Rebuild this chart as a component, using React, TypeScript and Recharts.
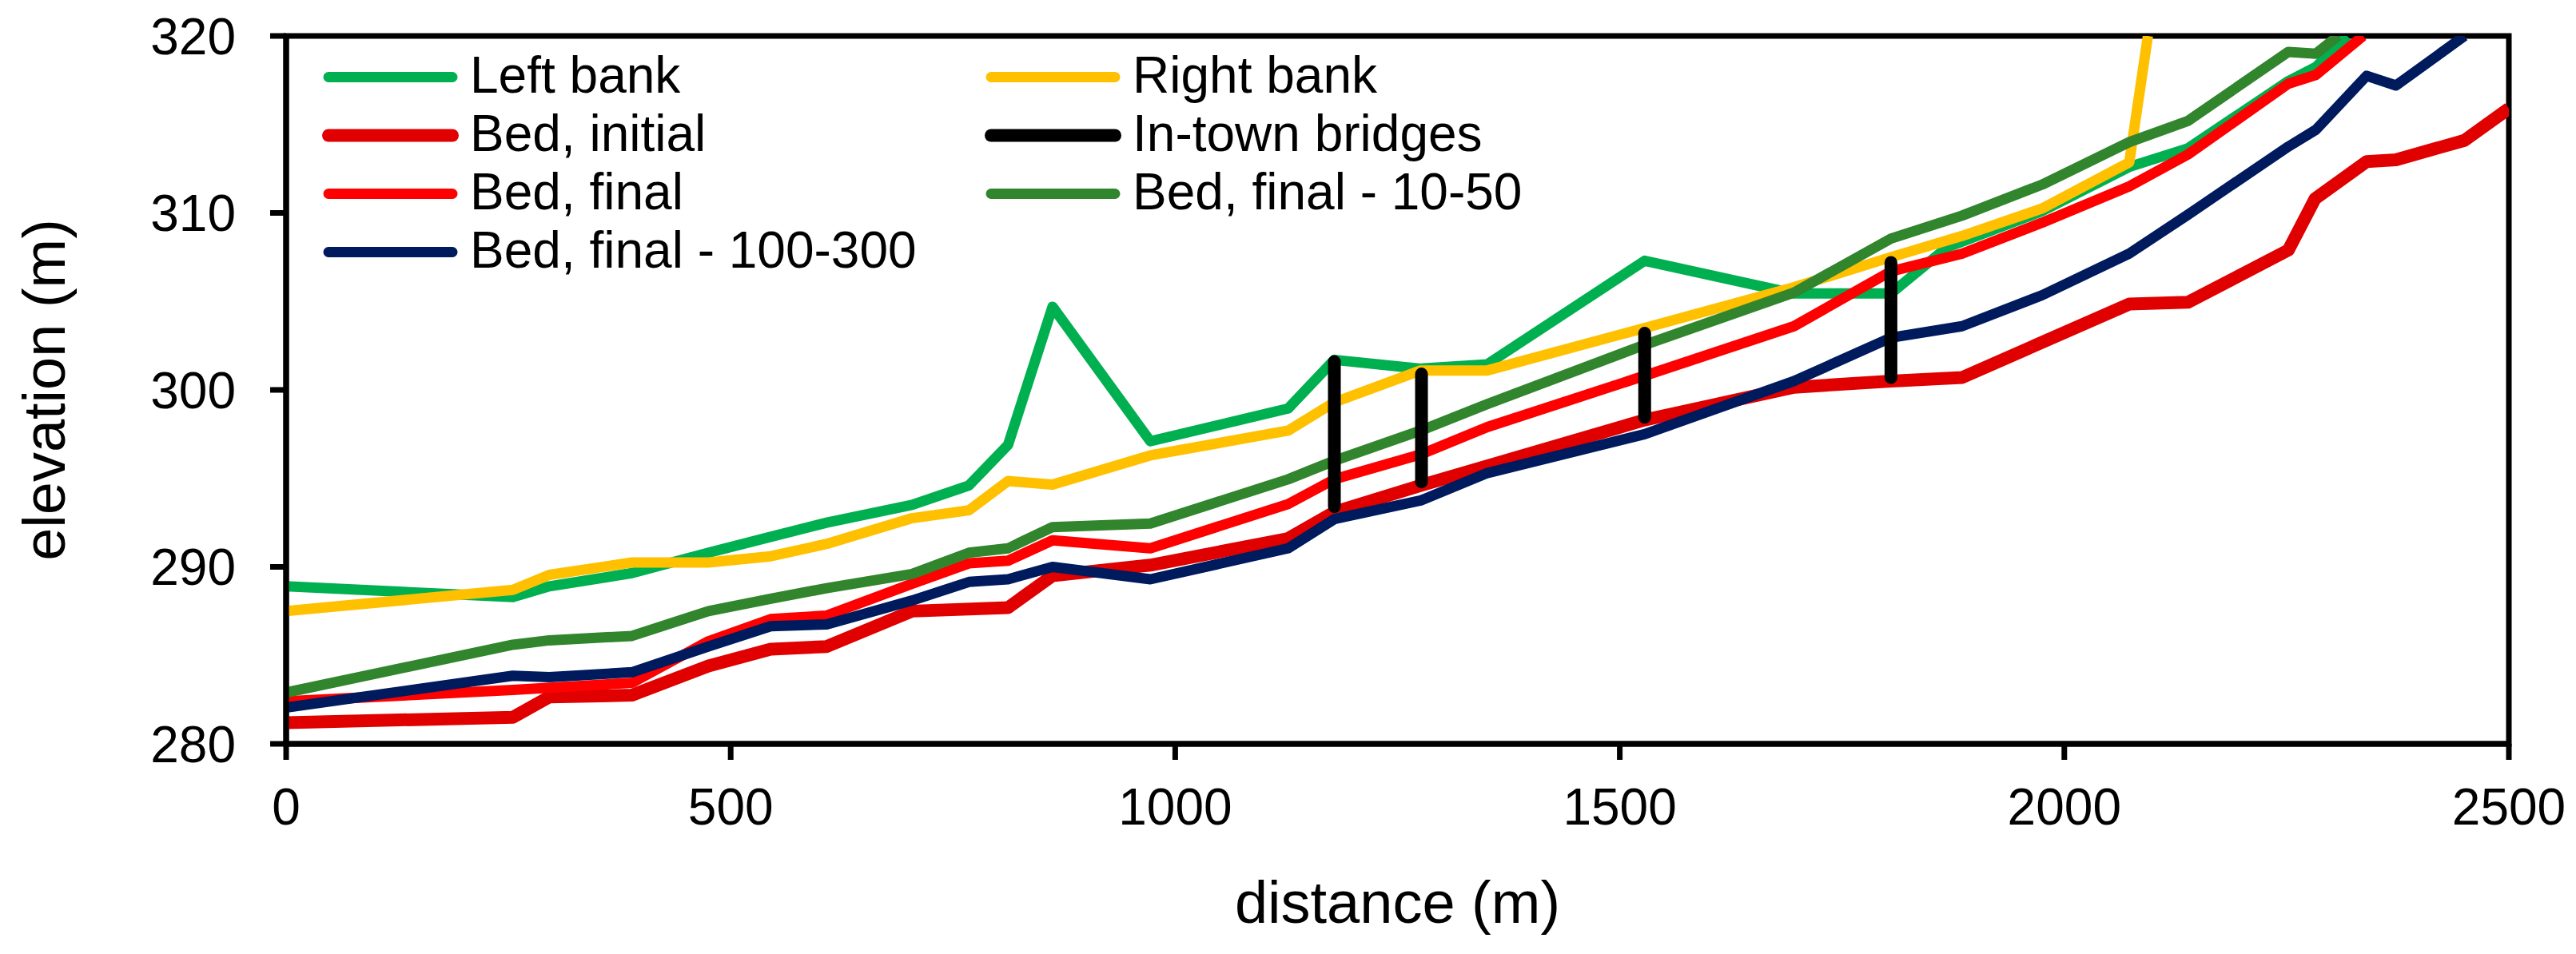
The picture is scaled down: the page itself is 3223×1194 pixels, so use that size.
import React from 'react';
import { LineChart, Line, XAxis, YAxis, Legend, ReferenceArea } from 'recharts';

const FONT = "'Liberation Sans', Arial, sans-serif";

const xTicks = [0, 500, 1000, 1500, 2000, 2500];
const yTicks = [280, 290, 300, 310, 320];

const leftBank = [
  { d: 0, e: 288.9 }, { d: 255, e: 288.3 }, { d: 296, e: 288.9 }, { d: 389, e: 289.65 },
  { d: 475, e: 290.8 }, { d: 545, e: 291.7 }, { d: 608, e: 292.5 }, { d: 704, e: 293.5 },
  { d: 768, e: 294.6 }, { d: 812, e: 296.9 }, { d: 862, e: 304.7 }, { d: 972, e: 297.1 },
  { d: 1127, e: 298.95 }, { d: 1179, e: 301.7 }, { d: 1276, e: 301.2 }, { d: 1351, e: 301.45 },
  { d: 1528, e: 307.3 }, { d: 1696, e: 305.45 }, { d: 1805, e: 305.45 }, { d: 1868, e: 308.05 },
  { d: 1975, e: 310.1 }, { d: 2073, e: 312.6 }, { d: 2139, e: 313.65 }, { d: 2252, e: 317.45 },
  { d: 2283, e: 318.25 }, { d: 2318, e: 320 },
];

const rightBank = [
  { d: 0, e: 287.5 }, { d: 255, e: 288.7 }, { d: 296, e: 289.55 }, { d: 389, e: 290.25 },
  { d: 475, e: 290.25 }, { d: 545, e: 290.6 }, { d: 608, e: 291.3 }, { d: 704, e: 292.75 },
  { d: 768, e: 293.2 }, { d: 812, e: 294.85 }, { d: 862, e: 294.65 }, { d: 972, e: 296.3 },
  { d: 1127, e: 297.7 }, { d: 1179, e: 299.3 }, { d: 1276, e: 301.1 }, { d: 1351, e: 301.1 },
  { d: 1528, e: 303.5 }, { d: 1696, e: 305.8 }, { d: 1805, e: 307.5 }, { d: 1885, e: 308.7 },
  { d: 1975, e: 310.25 }, { d: 2073, e: 312.85 }, { d: 2094, e: 320 },
];

const bedInitial = [
  { d: 0, e: 281.2 }, { d: 255, e: 281.5 }, { d: 296, e: 282.65 }, { d: 389, e: 282.75 },
  { d: 475, e: 284.4 }, { d: 545, e: 285.35 }, { d: 608, e: 285.5 }, { d: 704, e: 287.5 },
  { d: 812, e: 287.7 }, { d: 862, e: 289.5 }, { d: 972, e: 290.1 }, { d: 1127, e: 291.6 },
  { d: 1179, e: 293.1 }, { d: 1276, e: 294.6 }, { d: 1351, e: 295.7 }, { d: 1528, e: 298.3 },
  { d: 1696, e: 300.15 }, { d: 1805, e: 300.5 }, { d: 1885, e: 300.7 }, { d: 2073, e: 304.85 },
  { d: 2139, e: 304.95 }, { d: 2252, e: 307.9 }, { d: 2282, e: 310.8 }, { d: 2340, e: 312.9 },
  { d: 2373, e: 313.0 }, { d: 2450, e: 314.1 }, { d: 2500, e: 315.9 },
];

const bedFinal = [
  { d: 0, e: 282.4 }, { d: 255, e: 283.05 }, { d: 389, e: 283.45 }, { d: 475, e: 285.8 },
  { d: 545, e: 287.05 }, { d: 608, e: 287.25 }, { d: 704, e: 289.05 }, { d: 768, e: 290.2 },
  { d: 812, e: 290.35 }, { d: 862, e: 291.5 }, { d: 972, e: 291.05 }, { d: 1127, e: 293.55 },
  { d: 1179, e: 294.95 }, { d: 1276, e: 296.35 }, { d: 1351, e: 297.9 }, { d: 1528, e: 300.8 },
  { d: 1696, e: 303.6 }, { d: 1805, e: 306.7 }, { d: 1885, e: 307.7 }, { d: 1975, e: 309.45 },
  { d: 2073, e: 311.5 }, { d: 2139, e: 313.3 }, { d: 2252, e: 317.3 }, { d: 2283, e: 317.8 },
  { d: 2336, e: 320 },
];

const bedFinal1050 = [
  { d: 0, e: 282.9 }, { d: 255, e: 285.6 }, { d: 296, e: 285.85 }, { d: 389, e: 286.1 },
  { d: 475, e: 287.5 }, { d: 545, e: 288.2 }, { d: 608, e: 288.8 }, { d: 704, e: 289.6 },
  { d: 768, e: 290.8 }, { d: 812, e: 291.05 }, { d: 862, e: 292.25 }, { d: 972, e: 292.45 },
  { d: 1127, e: 294.95 }, { d: 1179, e: 296.0 }, { d: 1276, e: 297.7 }, { d: 1351, e: 299.2 },
  { d: 1528, e: 302.55 }, { d: 1696, e: 305.5 }, { d: 1805, e: 308.55 }, { d: 1885, e: 309.85 },
  { d: 1975, e: 311.6 }, { d: 2073, e: 314.0 }, { d: 2139, e: 315.2 }, { d: 2252, e: 319.1 },
  { d: 2283, e: 319.0 }, { d: 2308, e: 320 },
];

const bedFinal100300 = [
  { d: 0, e: 282.05 }, { d: 255, e: 283.85 }, { d: 296, e: 283.77 }, { d: 389, e: 284.05 },
  { d: 475, e: 285.5 }, { d: 545, e: 286.65 }, { d: 608, e: 286.75 }, { d: 704, e: 288.1 },
  { d: 768, e: 289.15 }, { d: 812, e: 289.3 }, { d: 862, e: 290.0 }, { d: 972, e: 289.3 },
  { d: 1127, e: 291.05 }, { d: 1179, e: 292.7 }, { d: 1276, e: 293.75 }, { d: 1351, e: 295.3 },
  { d: 1528, e: 297.5 }, { d: 1696, e: 300.5 }, { d: 1805, e: 302.95 }, { d: 1885, e: 303.6 },
  { d: 1975, e: 305.35 }, { d: 2073, e: 307.7 }, { d: 2139, e: 309.9 }, { d: 2252, e: 313.75 },
  { d: 2283, e: 314.7 }, { d: 2340, e: 317.75 }, { d: 2373, e: 317.2 }, { d: 2450, e: 320 },
];

const bridges = [
  { d: 1179, e: 293.4 }, { d: 1179, e: 301.6 }, { d: 1179, e: null },
  { d: 1277, e: 294.8 }, { d: 1277, e: 300.9 }, { d: 1277, e: null },
  { d: 1528, e: 298.45 }, { d: 1528, e: 303.2 }, { d: 1528, e: null },
  { d: 1805, e: 300.7 }, { d: 1805, e: 307.2 },
];

const series = [
  { key: 'lb', name: 'Left bank', data: leftBank, color: '#00B050', w: 13 },
  { key: 'rb', name: 'Right bank', data: rightBank, color: '#FFC000', w: 13 },
  { key: 'bi', name: 'Bed, initial', data: bedInitial, color: '#E00000', w: 16 },
  { key: 'bf', name: 'Bed, final', data: bedFinal, color: '#FF0000', w: 13 },
  { key: 'b1', name: 'Bed, final - 10-50', data: bedFinal1050, color: '#31852D', w: 13 },
  { key: 'b3', name: 'Bed, final - 100-300', data: bedFinal100300, color: '#001A5E', w: 13 },
  { key: 'br', name: 'In-town bridges', data: bridges, color: '#000000', w: 16 },
];

const legendOrder = ['lb', 'rb', 'bi', 'br', 'bf', 'b1', 'b3'];

function LegendBox() {
  const items = legendOrder.map((k) => series.find((s) => s.key === k)!);
  return (
    <div
      style={{
        display: 'grid',
        gridTemplateColumns: '829px auto',
        gridAutoRows: '73px',
        fontFamily: FONT,
        fontSize: 64,
        color: '#000',
      }}
    >
      {items.map((s) => (
        <div key={s.key} style={{ display: 'flex', alignItems: 'flex-start', height: 73 }}>
          <svg width={171} height={73} style={{ display: 'block', flex: 'none' }}>
            <line x1={8} x2={163} y1={38.5} y2={38.5} stroke={s.color} strokeWidth={s.w} strokeLinecap="round" />
          </svg>
          <span style={{ marginLeft: 14, lineHeight: '73px', whiteSpace: 'nowrap' }}>{s.name}</span>
        </div>
      ))}
    </div>
  );
}

function YTitle(props: any) {
  const vb = props && props.viewBox && typeof props.viewBox.height === 'number'
    ? props.viewBox
    : { x: 0, y: 45, width: 358, height: 886 };
  const cx = vb.x + 81;
  const cy = vb.y + vb.height / 2;
  return (
    <text
      x={cx}
      y={cy}
      transform={`rotate(-90, ${cx}, ${cy})`}
      textAnchor="middle"
      fontSize={74}
      fontFamily={FONT}
      fill="#000"
    >
      elevation (m)
    </text>
  );
}

export default function App() {
  const tickStyle = { fontSize: 64, fill: '#000', fontFamily: FONT };
  const axisStroke = { stroke: '#000', strokeWidth: 7 };
  return (
    <div style={{ position: 'absolute', left: 0, top: 0, width: 3223, height: 1194, background: '#fff' }}>
      <LineChart width={3223} height={1194} margin={{ top: 45, right: 84, bottom: 0, left: 0 }}>
        <XAxis
          type="number"
          dataKey="d"
          domain={[0, 2500]}
          ticks={xTicks}
          interval={0}
          height={263}
          tickSize={20}
          tickMargin={36}
          tick={tickStyle}
          axisLine={axisStroke}
          tickLine={axisStroke}
          allowDataOverflow
          label={{
            value: 'distance (m)',
            position: 'insideBottom',
            offset: 39,
            style: { fontSize: 74, fill: '#000', fontFamily: FONT },
          }}
        />
        <YAxis
          type="number"
          domain={[280, 320]}
          ticks={yTicks}
          interval={0}
          width={358}
          tickSize={20}
          tickMargin={43}
          tick={tickStyle}
          axisLine={axisStroke}
          tickLine={axisStroke}
          allowDataOverflow
          label={<YTitle />}
        />
        <ReferenceArea x1={0} x2={2500} y1={280} y2={320} fill="none" stroke="#000" strokeWidth={7} />
        {series.map((s) => (
          <Line
            key={s.key}
            data={s.data}
            dataKey="e"
            name={s.name}
            type="linear"
            stroke={s.color}
            strokeWidth={s.w}
            strokeLinejoin="round"
            strokeLinecap={s.key === 'br' ? 'round' : 'butt'}
            dot={false}
            activeDot={false}
            connectNulls={false}
            isAnimationActive={false}
          />
        ))}
        <Legend
          layout="vertical"
          align="center"
          verticalAlign="middle"
          wrapperStyle={{ left: 403, top: 58, width: 1800, height: 300 }}
          content={() => <LegendBox />}
        />
      </LineChart>
    </div>
  );
}
